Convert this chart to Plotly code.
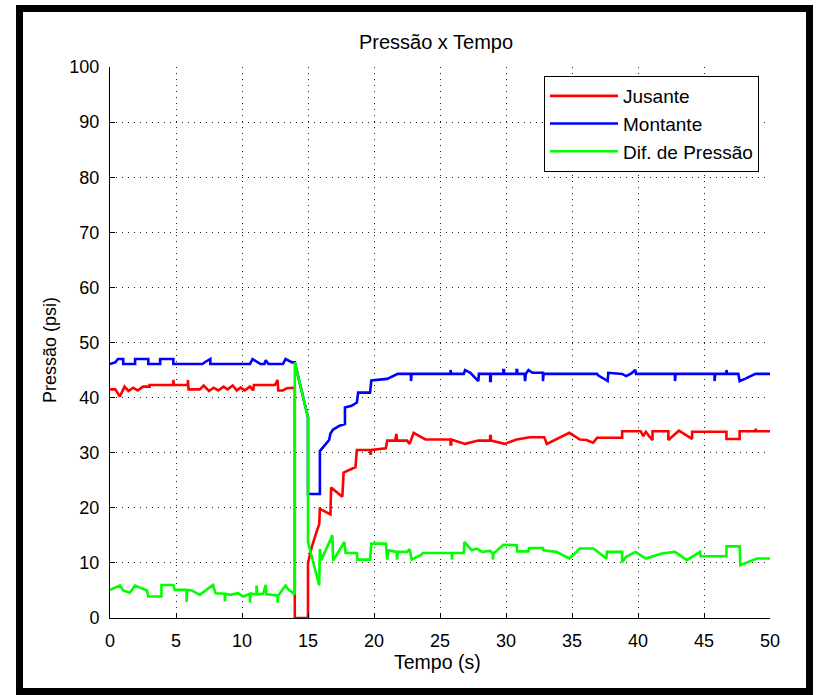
import plotly.graph_objects as go

# ---------------- data ----------------
jus_t = [0, 0.4, 0.75, 1.1, 1.4, 1.75, 2.1, 2.5, 3.0, 3.0, 4.8, 4.8, 4.85, 4.85, 5.9, 5.9, 5.95, 5.95,
         6.8, 7.1, 7.5, 7.85, 8.2, 8.6, 8.9, 9.3, 9.6, 9.9, 10.2, 10.6, 10.85, 10.9, 12.5, 12.7, 12.75,
         13.1, 13.4, 13.9, 14.0, 14.0, 15.0, 15.0, 15.3, 15.7, 15.85, 15.9, 16.7, 16.75, 17.6, 17.7, 18.6,
         18.7, 19.7, 19.75, 19.8, 20.9, 21.0, 21.6, 21.7, 21.75, 22.5, 22.7, 23.0, 23.9, 25.8, 25.8, 25.85,
         25.85, 26.9, 27.9, 28.8, 28.8, 28.85, 28.85, 29.9, 30.8, 31.8, 32.9, 33.1, 34.8, 35.6, 36.1, 36.6,
         36.9, 38.8, 38.8, 40.2, 40.4, 40.6, 40.9, 41.1, 41.1, 42.3, 42.3, 43.1, 44.1, 44.1, 46.7, 46.7,
         47.7, 47.7, 48.9, 48.9, 49.0, 50.0]
jus_p = [41.5, 41.5, 40.2, 42.0, 41.2, 41.8, 41.3, 42.0, 42.0, 42.3, 42.3, 43.2, 43.2, 42.3, 42.3, 43.2, 43.2, 41.5,
         41.5, 42.2, 41.2, 41.8, 41.3, 42.0, 41.5, 42.2, 41.3, 41.8, 41.3, 42.0, 41.3, 42.3, 42.3, 43.2, 41.3,
         41.3, 41.7, 41.8, 41.8, 0.0, 0.0, 10.0, 13.0, 16.0, 17.0, 19.8, 18.8, 23.7, 22.0, 26.4, 27.4,
         30.5, 30.5, 29.6, 30.5, 30.8, 32.2, 32.2, 33.4, 32.2, 32.2, 31.6, 33.6, 32.4, 32.4, 31.5, 31.5,
         32.4, 31.6, 32.2, 32.2, 33.0, 33.0, 32.2, 31.6, 32.4, 32.8, 32.8, 31.6, 33.6, 32.4, 32.3, 31.8,
         32.7, 32.7, 33.9, 33.9, 33.0, 33.8, 32.8, 32.3, 33.9, 33.9, 32.3, 34.0, 32.5, 33.8, 33.8, 32.5,
         32.5, 33.9, 33.9, 34.3, 33.9, 33.9]

mon_t = [0, 0.4, 0.6, 1.0, 1.0, 1.9, 1.9, 2.9, 2.9, 3.8, 3.8, 4.8, 4.8, 7.0, 7.3, 7.6, 7.6, 10.6, 10.8,
         11.2, 11.4, 11.7, 11.8, 12.0, 13.1, 13.3, 13.6, 13.8, 14.0, 15.0, 15.0, 15.9, 15.9, 16.6, 16.7,
         16.9, 17.4, 17.8, 17.8, 18.3, 18.7, 18.8, 19.7, 19.8, 21.0, 21.8, 22.8, 22.8, 22.85, 22.85, 25.8,
         25.8, 25.85, 25.85, 26.8, 26.9, 27.3, 27.9, 27.95, 28.8, 28.8, 28.85, 28.85, 29.8, 29.8, 29.85,
         29.85, 30.8, 30.8, 30.85, 30.85, 31.4, 31.45, 31.5, 31.7, 32.0, 32.8, 32.8, 32.85, 32.85, 36.9,
         37.0, 37.3, 37.7, 37.75, 38.8, 39.1, 39.5, 39.8, 39.85, 42.8, 42.8, 42.85, 42.85, 45.8, 45.8,
         45.85, 45.85, 46.7, 46.7, 46.75, 46.75, 47.6, 47.7, 48.1, 48.5, 48.9, 50.0]
mon_p = [46.1, 46.4, 47.0, 47.0, 46.1, 46.1, 47.0, 47.0, 46.1, 46.1, 47.0, 47.0, 46.1, 46.1, 46.6, 47.0, 46.1, 46.1, 47.0,
         46.5, 46.1, 46.1, 46.8, 46.1, 46.1, 47.0, 46.6, 46.4, 46.4, 36.4, 22.5, 22.5, 30.3, 32.3, 33.5,
         34.2, 34.9, 35.2, 38.2, 38.5, 39.1, 40.9, 40.9, 43.1, 43.4, 44.3, 44.3, 43.0, 43.0, 44.3, 44.3,
         45.0, 45.0, 44.3, 44.3, 45.0, 44.5, 43.0, 44.3, 44.3, 43.0, 43.0, 44.3, 44.3, 45.0, 45.0,
         44.3, 44.3, 45.0, 45.0, 44.3, 44.3, 43.0, 44.3, 45.0, 44.5, 44.5, 43.0, 43.0, 44.3, 44.3,
         44.0, 43.6, 43.0, 44.5, 44.3, 43.9, 44.4, 45.0, 44.3, 44.3, 43.0, 43.0, 44.3, 44.3, 43.0,
         43.0, 44.3, 44.3, 45.0, 45.0, 44.3, 44.3, 43.0, 43.4, 43.8, 44.3, 44.3]

dif_t = [0, 0.76, 1.0, 1.5, 1.9, 2.8, 2.9, 3.9, 3.9, 4.8, 4.9, 5.8, 5.8, 5.85, 6.2, 6.8, 7.8, 8.0, 8.7,
         8.7, 8.75, 9.1, 9.7, 10.1, 10.6, 10.6, 10.65, 11.1, 11.1, 11.15, 11.6, 11.8, 11.85, 12.7, 12.7,
         12.75, 13.3, 13.5, 14.0, 14.0, 15.0, 15.0, 15.85, 15.9, 16.0, 16.85, 16.9, 17.75, 17.85, 18.7,
         18.75, 19.7, 19.8, 20.9, 21.0, 21.1, 21.7, 21.75, 21.8, 22.5, 22.7, 22.85, 23.6, 23.7, 25.9,
         25.9, 25.95, 26.8, 26.85, 27.4, 27.8, 28.2, 28.8, 29.0, 29.0, 29.05, 29.8, 30.8, 30.85, 31.7,
         31.75, 32.8, 32.85, 33.8, 34.8, 35.6, 36.6, 36.8, 37.6, 37.65, 38.8, 38.8, 39.1, 39.8, 40.6,
         41.8, 42.8, 43.7, 44.7, 44.75, 46.7, 46.7, 47.7, 47.75, 49.0, 50.0]
dif_p = [5.1, 5.9, 5.0, 4.6, 5.9, 5.0, 3.9, 3.9, 6.0, 6.0, 5.1, 5.1, 2.9, 5.1, 5.0, 4.2, 6.0, 4.5, 4.4,
         3.0, 4.4, 4.2, 4.5, 3.9, 4.4, 2.8, 4.4, 4.3, 5.9, 4.3, 4.4, 6.0, 4.3, 4.1, 2.8,
         4.1, 5.9, 5.2, 4.3, 46.4, 36.4, 13.8, 5.9, 12.5, 10.5, 15.0, 10.4, 13.8, 11.8, 11.8,
         10.6, 10.6, 13.5, 13.5, 10.6, 12.3, 12.0, 10.6, 12.0, 12.0, 12.5, 10.6, 11.5, 11.8, 11.8,
         10.6, 11.8, 11.8, 13.8, 12.3, 12.6, 12.0, 12.2, 11.7, 10.6, 11.7, 13.3, 13.2, 12.1, 12.1,
         12.7, 12.7, 12.3, 12.0, 10.8, 12.6, 12.6, 12.3, 10.8, 12.0, 12.0, 10.1, 11.1, 12.0, 10.8,
         11.7, 12.0, 10.5, 12.0, 11.2, 11.2, 13.0, 13.0, 9.6, 10.8, 10.8]

x_ticks = [0, 5, 10, 15, 20, 25, 30, 35, 40, 45, 50]
y_ticks = [0, 10, 20, 30, 40, 50, 60, 70, 80, 90, 100]
series_names = ["Jusante", "Montante", "Dif. de Pressão"]
series_colors = ["#ff0000", "#0000ff", "#00ff00"]

FONT = "Liberation Sans, Arial, sans-serif"

fig = go.Figure()
for name, tt, pp, col in zip(series_names, [jus_t, mon_t, dif_t], [jus_p, mon_p, dif_p], series_colors):
    fig.add_trace(go.Scatter(x=tt, y=pp, mode="lines", name=name, legendgroup=name,
                             line=dict(color=col, width=2.6)))

W, H = 816, 695
L, R, T, B = 110, 46, 67, 77
pw, ph = W - L - R, H - T - B


def px_x(px):
    return (px - L) / pw


def px_y(py):
    return (H - B - py) / ph


axis_common = dict(showline=True, linecolor="black", linewidth=1, ticks="inside", ticklen=5,
                   tickcolor="black", showgrid=True, gridcolor="#222222", gridwidth=1,
                   griddash="1px,5px", zeroline=False, mirror=False,
                   tickfont=dict(family=FONT, size=18, color="black"))

fig.update_xaxes(range=[0, 50], tickvals=x_ticks, ticktext=[str(v) for v in x_ticks],
                 ticklabelstandoff=6, **axis_common)
fig.update_yaxes(range=[0, 100], tickvals=y_ticks, ticktext=[str(v) for v in y_ticks],
                 ticklabelstandoff=6, **axis_common)

fig.update_layout(
    width=W, height=H,
    margin=dict(l=L, r=R, t=T, b=B),
    paper_bgcolor="white", plot_bgcolor="white",
    font=dict(family=FONT, size=18, color="black"),
    title=dict(text="Pressão x Tempo", x=px_x(436), xref="paper", xanchor="center",
               y=1 - 42 / H, yref="container", yanchor="middle",
               font=dict(family=FONT, size=20, color="black")),
    legend=dict(x=px_x(759), y=px_y(76), xanchor="right", yanchor="top",
                bgcolor="white", bordercolor="black", borderwidth=1,
                font=dict(family=FONT, size=19, color="black"),
                itemwidth=68, tracegroupgap=7, traceorder="normal"),
    showlegend=True,
    annotations=[
        dict(text="Tempo (s)", x=px_x(437), y=px_y(662), xref="paper", yref="paper",
             showarrow=False, font=dict(family=FONT, size=19.5, color="black"),
             xanchor="center", yanchor="middle"),
        dict(text="Pressão (psi)", x=px_x(50), y=px_y(350), xref="paper", yref="paper",
             showarrow=False, textangle=-90, font=dict(family=FONT, size=18, color="black"),
             xanchor="center", yanchor="middle"),
    ],
    shapes=[
        dict(type="rect", xref="paper", yref="paper",
             x0=px_x(19.5), x1=px_x(809.5), y0=px_y(691.5), y1=px_y(8.5),
             line=dict(color="black", width=7), fillcolor="rgba(0,0,0,0)", layer="above"),
    ],
)

fig.write_html("out.html")
